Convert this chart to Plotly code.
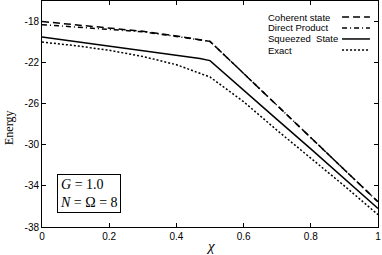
import plotly.graph_objects as go

# ---- data ----
x_coherent = [0.0, 0.1, 0.2, 0.3, 0.4, 0.5, 0.6, 0.7, 0.8, 0.9, 1.0]
coherent = [-18.0, -18.3, -18.6, -18.95, -19.4, -19.93, -23.05, -26.15, -29.25, -32.4, -35.55]

x_direct = [0.0, 0.1, 0.2, 0.3, 0.4, 0.5, 0.6, 0.7, 0.8, 0.9, 1.0]
direct = [-18.3, -18.55, -18.8, -19.0, -19.45, -19.93, -23.05, -26.15, -29.25, -32.4, -35.55]

x_squeezed = [0.0, 0.1, 0.2, 0.3, 0.4, 0.45, 0.47, 0.5, 0.6, 0.7, 0.8, 0.9, 1.0]
squeezed = [-19.5, -19.95, -20.4, -20.85, -21.3, -21.5, -21.6, -21.8, -24.7, -27.55, -30.4, -33.3, -36.2]

x_exact = [0.0, 0.1, 0.2, 0.3, 0.4, 0.5, 0.6, 0.7, 0.8, 0.9, 1.0]
exact = [-20.0, -20.35, -20.8, -21.4, -22.2, -23.4, -25.8, -28.6, -31.3, -34.0, -36.8]

series_names = ["Coherent state", "Direct Product", "Squeezed  State", "Exact"]
x_ticks = [0, 0.2, 0.4, 0.6, 0.8, 1]
x_tick_labels = ["0", "0.2", "0.4", "0.6", "0.8", "1"]
y_ticks = [-38, -34, -30, -26, -22, -18]
y_tick_labels = ["-38", "-34", "-30", "-26", "-22", "-18"]

dashes = ["7px,4px", "5px,3px,1px,3px", "solid", "2px,2px"]
xs = [x_coherent, x_direct, x_squeezed, x_exact]
ys = [coherent, direct, squeezed, exact]

fig = go.Figure()
for name, xv, yv, d in zip(series_names, xs, ys, dashes):
    fig.add_trace(go.Scatter(x=xv, y=yv, mode="lines", name=name,
                             line=dict(color="black", width=1.5, dash=d),
                             showlegend=False))

# manual legend (text left, sample right)
leg_y = [0.929, 0.881, 0.832, 0.783]
for name, d, yy in zip(series_names, dashes, leg_y):
    fig.add_annotation(x=0.667, y=yy, xref="paper", yref="paper", text=name,
                       showarrow=False, xanchor="left", yanchor="middle",
                       font=dict(family="Liberation Sans", size=9.5, color="black"))
    fig.add_shape(type="line", xref="paper", yref="paper", x0=0.893, x1=0.976,
                  y0=yy, y1=yy, line=dict(color="black", width=1.5, dash=d))

# parameter box
fig.add_annotation(x=0.045, y=0.062, xref="paper", yref="paper",
                   text="<i>G</i> = 1.0<br><i>N</i> = Ω = 8",
                   showarrow=False, xanchor="left", yanchor="bottom", align="left",
                   font=dict(family="Liberation Serif", size=14, color="black"),
                   bordercolor="black", borderwidth=1, borderpad=2,
                   bgcolor="white")

# axis titles
fig.add_annotation(x=-0.1, y=0.44, xref="paper", yref="paper", text="Energy",
                   textangle=-90, showarrow=False, xanchor="center", yanchor="middle",
                   font=dict(family="Liberation Serif", size=12, color="black"))
fig.add_annotation(x=0.5, y=-0.085, xref="paper", yref="paper", text="<i>χ</i>",
                   showarrow=False, xanchor="center", yanchor="middle",
                   font=dict(family="Liberation Serif", size=15, color="black"))

axis_common = dict(showgrid=False, zeroline=False, showline=True, linecolor="black",
                   linewidth=1, mirror="allticks", ticks="inside", ticklen=4,
                   tickcolor="black", automargin=False,
                   tickfont=dict(family="Liberation Sans", size=10, color="black"))
fig.update_xaxes(range=[0, 1], tickvals=x_ticks, ticktext=x_tick_labels, **axis_common)
fig.update_yaxes(range=[-38, -16], tickvals=y_ticks, ticktext=y_tick_labels, **axis_common)

fig.update_layout(width=382, height=255, margin=dict(l=42, r=4, t=1, b=28),
                  plot_bgcolor="white", paper_bgcolor="white")

fig.write_html("out.html", config={"displayModeBar": False},
               post_script="document.body.style.margin='0';document.body.style.overflow='hidden';")
